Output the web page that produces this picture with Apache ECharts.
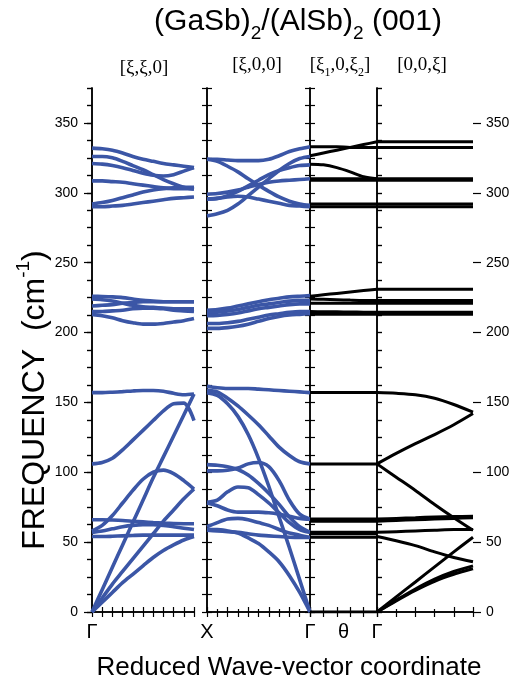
<!DOCTYPE html>
<html>
<head>
<meta charset="utf-8">
<script src="https://cdn.jsdelivr.net/npm/echarts@6.0.0/dist/echarts.min.js"></script>
<style>
  html, body { margin: 0; padding: 0; background: #fff; }
  #chart { width: 518px; height: 683px; }
</style>
</head>
<body>
<div id="chart"></div>
<script>
// sample points along each path (reduced wave-vector)
const tFine = [0, 0.1, 0.2, 0.3, 0.4, 0.5, 0.6, 0.7, 0.8, 0.9, 1]
const tCoarse = [0, 0.2, 0.4, 0.6, 0.8, 1]

// frequency ticks (cm-1)
const freqTicks = [0, 50, 100, 150, 200, 250, 300, 350]

// path labels under each panel: [position, label]
const pathLabels = [
  [[0, 'Γ']],
  [[0, 'X'], [1, 'Γ']],
  [[0.5, 'θ'], [1, 'Γ']],
  []
]

// [ξ,ξ,0]  Γ -> X
const xxoBranches = [
  [332, 331.5, 330.5, 328.5, 326, 324, 322.5, 321, 320, 319, 318],
  [326, 326, 325, 322.5, 319.5, 316.5, 313, 309.5, 306.5, 304, 302.5],
  [321, 320.5, 319.5, 318, 316, 314, 312.5, 312, 313, 315.5, 318],
  [308.5, 308.5, 308, 307.5, 306.5, 305.5, 304.5, 303.5, 303, 303, 303],
  [292, 293, 294.5, 296.5, 298.5, 300.5, 302, 303, 303.5, 304, 304],
  [290, 290, 290.5, 291, 292, 293, 294, 295, 296, 296.5, 297],
  [226, 225.8, 225.5, 225, 224, 223, 222.5, 222, 222, 222, 222],
  [224, 223.5, 222.5, 221, 219.5, 218.5, 218, 217.5, 217, 217, 217],
  [219, 219.5, 220, 221, 221.5, 222, 222, 222, 222, 222, 222],
  [215, 215, 215.5, 216, 217, 217.5, 217.5, 217, 216, 215.5, 215],
  [213, 212, 210.5, 208.5, 207, 206, 206, 206.5, 207.5, 208.5, 210],
  [157, 157, 157.3, 157.7, 158.2, 158.5, 158.5, 158, 156.5, 155.5, 156],
  [106, 107, 110, 116, 123, 130, 137, 144, 149, 149.5, 137],
  [0, 16, 32, 48, 64, 80, 96, 111, 126, 141, 156],
  [58, 62, 69, 78, 87, 95, 100, 101.5, 99, 94, 88],
  [0, 10, 20, 29, 38, 47, 56, 65, 73, 81, 88],
  [0, 7, 14, 21, 27, 33, 39, 44, 48, 51.5, 54],
  [66, 66, 65.8, 65.5, 65, 64.5, 64, 63.6, 63.3, 63.2, 63.2],
  [57, 58, 59.5, 61, 62, 62.5, 62.5, 62, 61, 60, 59],
  [54, 54, 54.2, 54.5, 54.8, 55, 55, 55, 55, 55, 55]
]

// [ξ,0,0]  X -> Γ
const xooBranches = [
  [324, 324, 323.5, 323, 323, 323, 324, 326.5, 329.5, 331.5, 333],
  [324, 322.5, 319, 315, 310, 305.5, 301, 297, 294, 292, 291],
  [299, 299.5, 300.5, 302, 304, 306, 307.5, 308.5, 309, 309.5, 310],
  [295.5, 296, 297, 297.5, 297, 295.5, 294, 292.5, 291, 290.5, 290],
  [283.5, 285, 287.5, 292, 298, 304, 310, 316, 321, 324.5, 326],
  [295.5, 296, 298, 301, 305, 309, 313, 316, 318, 319.5, 320],
  [216, 216.5, 217.5, 219, 220.5, 222, 223.5, 224.5, 225.5, 226, 226.4],
  [214, 214.5, 215.5, 216.5, 218, 219.5, 220.5, 221.5, 222.5, 223, 223],
  [212, 212.3, 213, 214, 215.5, 217, 218, 219, 220, 220.5, 220.5],
  [206.5, 206.5, 207, 208, 209.5, 211, 212.5, 213.5, 214.5, 215, 215],
  [203, 203, 203.5, 204.5, 206, 208, 210, 211.5, 212.5, 213, 213.5],
  [161.5, 160.5, 160, 160, 160, 159.5, 159, 158.5, 158, 157.5, 157],
  [158.6, 157.5, 153, 147.5, 141, 134, 126, 118, 112, 107.5, 106],
  [157, 155, 149, 140, 127, 110, 90, 68, 46, 23, 0],
  [105.5, 105, 104, 102, 98, 92, 85, 77, 68, 61, 57],
  [101, 101, 101.5, 103, 106, 107, 104, 94, 80, 70, 66.4],
  [78.5, 80, 86, 89.5, 89, 84, 78, 71, 64, 59, 57],
  [78, 76, 73, 71.5, 71.5, 71.5, 71, 70, 68.5, 67, 66.4],
  [61, 64, 66.5, 67, 66, 64, 62, 59, 56.5, 55, 53.3],
  [58.5, 58, 57.5, 57, 56, 55, 54.5, 54, 53.5, 53.3, 53.3],
  [59, 59, 58, 56.5, 53, 49, 43, 36, 26, 14, 0]
]

// [ξ1,0,ξ2]  Γ -> Γ through θ
const mixBranches = [
  [333, 333, 333, 332.5, 332.5, 332.5],
  [326.5, 328.5, 330.5, 332.5, 334.5, 336.5],
  [320.5, 320, 318, 315, 311.5, 310],
  [310, 310, 310, 310, 310, 310],
  [309, 309, 309, 309, 309, 309],
  [292, 292, 292, 292, 292, 292],
  [290, 290, 290, 290, 290, 290],
  [226, 227, 228, 229, 230, 231],
  [224, 223.8, 223.5, 223.2, 223, 223],
  [221, 221, 221, 221, 221, 221],
  [215, 214.9, 214.8, 214.7, 214.6, 214.5],
  [213, 213, 213, 213, 213, 213],
  [157, 157, 157, 157, 157, 157],
  [106, 106, 106, 106, 106, 106],
  [66.5, 66.5, 66.5, 66.5, 66.5, 66.5],
  [65, 65, 65, 65, 65, 65],
  [57, 57, 57, 57, 57, 57],
  [56, 56, 56, 56, 56, 56],
  [53.5, 53.5, 53.5, 53.5, 53.5, 53.5],
  [0, 0, 0, 0, 0, 0]
]

// [0,0,ξ]
const ooxBranches = [
  [336.5, 336.5, 336.5, 336.5, 336.5, 336.5],
  [332.5, 332.5, 332.5, 332.5, 332.5, 332.5],
  [310, 310, 310, 310, 310, 310],
  [309, 309, 309, 309, 309, 309],
  [292, 292, 292, 292, 292, 292],
  [290, 290, 290, 290, 290, 290],
  [231, 231, 231, 231, 231, 231],
  [223, 223, 223, 223, 223, 223],
  [221, 221, 221, 221, 221, 221],
  [214.5, 214.5, 214.5, 214.5, 214.5, 214.5],
  [213, 213, 213, 213, 213, 213],
  [157, 156.5, 155.5, 153, 148.5, 143],
  [106, 113.5, 120.5, 127, 134, 142],
  [106, 96.5, 87, 77, 67.5, 58.5],
  [66.5, 67, 67.5, 68, 68.3, 68.5],
  [65, 65.5, 66, 66.5, 67, 67.5],
  [57, 57.5, 58, 58.5, 59, 59],
  [54, 51, 47.5, 43, 39, 36],
  [0, 10.8, 21.5, 32.3, 43, 53.5],
  [0, 8.5, 16.5, 23.5, 29, 33],
  [0, 8, 15.5, 22, 27, 31]
]

const blue = '#3b56a6'
const black = '#000'
const font = 'Liberation Sans, Arial, sans-serif'
const serif = 'Liberation Serif, Times New Roman, serif'

const panels = [
  { left: 92, width: 102, t: tFine, branches: xxoBranches, color: blue, lw: 3.6, top: 0.1, bottom: 0.1, minor: 0 },
  { left: 207, width: 103, t: tFine, branches: xooBranches, color: blue, lw: 3.6, top: 0.1, bottom: 0.2, minor: 2 },
  { left: 310, width: 67, t: tCoarse, branches: mixBranches, color: black, lw: 3, top: 0.2, bottom: 0.2, minor: 0 },
  { left: 377, width: 96, t: tCoarse, branches: ooxBranches, color: black, lw: 3, top: 0.2, bottom: 0.4, minor: 2 }
]
const gridTop = 88
const gridHeight = 524
const fMax = 375

const lineStyle = { color: '#000', width: 1.5 }
const tickStyle = { color: '#000', width: 1.2 }

let grid = []
let xAxis = []
let yAxis = []
let series = []

panels.forEach((p, i) => {
  grid.push({ left: p.left, top: gridTop, width: p.width, height: gridHeight })
  const labels = pathLabels[i]
  // bottom axis with path labels
  xAxis.push({
    type: 'value', gridIndex: i, position: 'bottom', min: 0, max: 1, interval: p.bottom,
    axisLine: { show: true, lineStyle: lineStyle },
    axisTick: { show: true, inside: true, length: 5, lineStyle: tickStyle },
    minorTick: { show: p.minor > 0, splitNumber: p.minor || 2, length: 3, lineStyle: tickStyle },
    axisLabel: {
      show: labels.length > 0,
      customValues: labels.map(l => l[0]),
      formatter: v => {
        const hit = labels.find(l => Math.abs(l[0] - v) < 1e-6)
        return hit ? hit[1] : ''
      },
      margin: 10, fontSize: 20, color: '#000', fontFamily: font
    },
    splitLine: { show: false }
  })
  // top axis
  xAxis.push({
    type: 'value', gridIndex: i, position: 'top', min: 0, max: 1, interval: p.top,
    axisLine: { show: true, lineStyle: lineStyle },
    axisTick: { show: true, inside: true, length: 5, lineStyle: tickStyle },
    axisLabel: { show: false },
    splitLine: { show: false }
  })
  // left / right frequency axes, minor ticks every 12.5
  const outerLeft = i === 0
  const outerRight = i === panels.length - 1
  yAxis.push({
    type: 'value', gridIndex: i, position: 'left', min: 0, max: fMax, interval: 12.5,
    axisLine: { show: true, lineStyle: lineStyle },
    axisTick: { show: true, inside: !outerLeft, length: 5, lineStyle: tickStyle },
    axisLabel: { show: false },
    splitLine: { show: false }
  })
  yAxis.push({
    type: 'value', gridIndex: i, position: 'right', min: 0, max: fMax, interval: 12.5,
    axisLine: { show: true, lineStyle: lineStyle },
    axisTick: { show: true, inside: !outerRight, length: 5, lineStyle: tickStyle },
    axisLabel: { show: false },
    splitLine: { show: false }
  })

  p.branches.forEach(b => {
    series.push({
      type: 'line',
      xAxisIndex: 2 * i,
      yAxisIndex: 2 * i,
      data: p.t.map((t, k) => [t, b[k]]),
      smooth: 0.3,
      showSymbol: false,
      symbol: 'none',
      silent: true,
      lineStyle: { color: p.color, width: p.lw },
      z: 3
    })
  })
})

// outer labelled axes (major ticks outside)
const majorAxis = (gridIndex, position, margin) => ({
  type: 'value', gridIndex: gridIndex, position: position, min: 0, max: fMax,
  axisLine: { show: false },
  axisTick: { show: true, inside: false, length: 8, customValues: freqTicks, lineStyle: tickStyle },
  axisLabel: { show: true, customValues: freqTicks, margin: margin, fontSize: 14, color: '#000', fontFamily: font },
  splitLine: { show: false }
})
yAxis.push(majorAxis(0, 'left', 14))
yAxis.push(majorAxis(3, 'right', 13))

const chart = echarts.init(document.getElementById('chart'), null, { renderer: 'canvas' })
chart.setOption({
  animation: false,
  backgroundColor: '#fff',
  grid: grid,
  xAxis: xAxis,
  yAxis: yAxis,
  series: series,
  graphic: [
    {
      type: 'text',
      style: {
        text: '(GaSb){s|2}/(AlSb){s|2} (001)',
        x: 298, y: 22, align: 'center', verticalAlign: 'middle',
        font: '30px ' + font, fill: '#000', lineHeight: 42,
        rich: { s: { fontSize: 19, fontFamily: font, verticalAlign: 'bottom', lineHeight: 19 } }
      }
    },
    { type: 'text', style: { text: '[ξ,ξ,0]', x: 144, y: 68, align: 'center', verticalAlign: 'middle', font: '19px ' + serif, fill: '#000' } },
    { type: 'text', style: { text: '[ξ,0,0]', x: 257, y: 65, align: 'center', verticalAlign: 'middle', font: '19px ' + serif, fill: '#000' } },
    {
      type: 'text',
      style: {
        text: '[ξ{s|1},0,ξ{s|2}]', x: 340, y: 65, align: 'center', verticalAlign: 'middle',
        font: '19px ' + serif, fill: '#000', lineHeight: 28,
        rich: { s: { fontSize: 12, fontFamily: serif, verticalAlign: 'bottom', lineHeight: 12 } }
      }
    },
    { type: 'text', style: { text: '[0,0,ξ]', x: 422, y: 65, align: 'center', verticalAlign: 'middle', font: '19px ' + serif, fill: '#000' } },
    {
      type: 'text', x: 35, y: 400, rotation: Math.PI / 2,
      style: {
        text: 'FREQUENCY  (cm{u|-1})', x: 0, y: 0, align: 'center', verticalAlign: 'middle',
        font: '32px ' + font, fill: '#000', lineHeight: 42,
        rich: { u: { fontSize: 19, fontFamily: font, verticalAlign: 'top', lineHeight: 19 } }
      }
    },
    {
      type: 'text',
      style: { text: 'Reduced Wave-vector coordinate', x: 289, y: 668, align: 'center', verticalAlign: 'middle', font: '26px ' + font, fill: '#000' }
    }
  ]
})
</script>
</body>
</html>
